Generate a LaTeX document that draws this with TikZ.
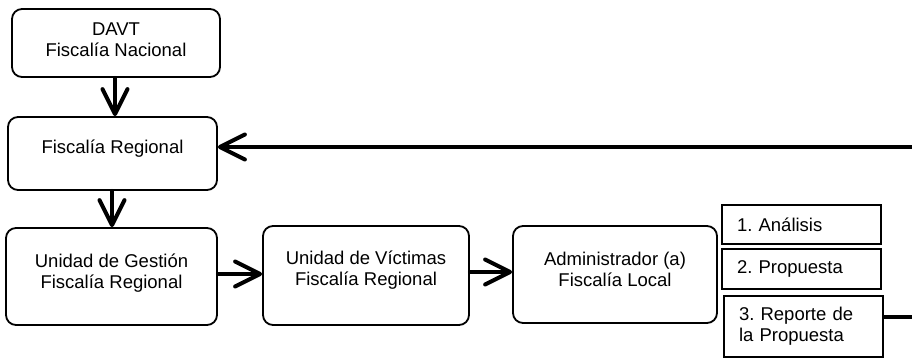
\documentclass[tikz,border=0pt]{standalone}
\usepackage{fontspec}
\setmainfont{Liberation Sans}
\usetikzlibrary{arrows.meta}
\begin{document}
\frenchspacing
\begin{tikzpicture}[x=1pt,y=-1pt,
  font=\fontsize{18.5}{21}\selectfont,
  bigbox/.style={draw, line width=1.8pt, rounded corners=10pt, align=center, inner sep=0pt},
  twoline/.style={text height=40pt, text depth={40pt+2*(#1-17.15pt)}},
  oneline/.style={text height=14pt, text depth=14pt},
  smallbox/.style={draw, line width=1.8pt, align=left, inner xsep=15pt, inner ysep=0pt, text width=129pt, minimum width=159pt},
  flow/.style={line width=4pt, line cap=round, -{Straight Barb[length=25pt, width=25pt, line width=4pt, round]}},
  plain/.style={line width=4pt}]
\useasboundingbox (0,0) rectangle (912,359);
\node[bigbox, twoline=4pt, minimum width=208pt, minimum height=68pt] (davt) at (116,43) {DAVT\\Fiscalía Nacional};
\node[bigbox, oneline, minimum width=209pt, minimum height=73pt] (fr) at (112.5,153.5) {Fiscalía Regional};
\node[bigbox, twoline=5.5pt, minimum width=211pt, minimum height=97pt] (ug) at (111.5,276.5) {Unidad de Gestión\\Fiscalía Regional};
\node[bigbox, twoline=7pt, minimum width=206pt, minimum height=99pt] (uv) at (366,275.5) {Unidad de Víctimas\\Fiscalía Regional};
\node[bigbox, twoline=5pt, minimum width=204pt, minimum height=97pt] (adm) at (615,274.5) {Administrador (a)\\Fiscalía Local};
\node[smallbox, minimum height=39pt] (s1) at (801.5,224.5) {1. Análisis};
\node[smallbox, minimum height=40pt] (s2) at (801.5,269) {2. Propuesta};
\node[smallbox, minimum height=61pt] (s3) at (803.5,326.5) {3. Reporte de\\la Propuesta};
\coordinate (c1) at (935,317);
\coordinate (c2) at (935,147);
\draw[flow] (davt.south -| 115,0) -- (fr.north -| 115,0);
\draw[flow] (fr.south -| 112,0) -- (ug.north -| 112,0);
\draw[flow] (ug.east |- 0,274) -- (uv.west |- 0,274);
\draw[flow] (uv.east |- 0,272) -- (adm.west |- 0,272);
\draw[plain] (s3.east |- c1) -- (c1) -- (c2);
\draw[flow] (c2) -- (fr.east |- c2);
\end{tikzpicture}
\end{document}
